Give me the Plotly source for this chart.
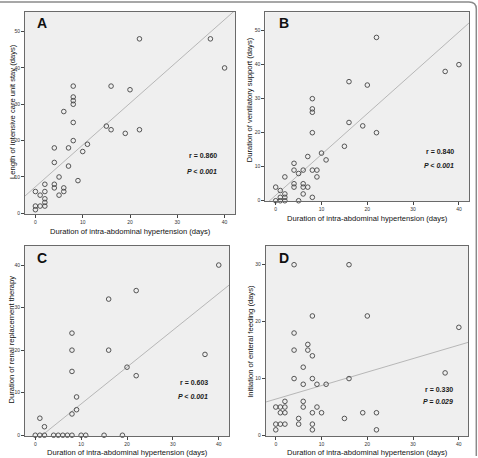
import plotly.graph_objects as go

W, H = 478, 458

# ---------------- data ----------------
a_x = [0, 0, 0, 1, 1, 2, 2, 2, 2, 2, 4, 4, 4, 4, 5, 5, 6, 6, 6, 7, 7, 8, 8, 8, 8, 8, 8, 9, 10, 11, 15, 16, 16, 19, 20, 22, 22, 37, 40]
a_y = [1, 2, 6, 2, 5, 2, 3, 4, 6, 8, 7, 8, 14, 18, 5, 10, 6, 7, 28, 13, 18, 20, 25, 30, 31, 32, 35, 9, 17, 19, 24, 23, 35, 22, 34, 23, 48, 48, 40]

b_x = [0, 0, 1, 1, 1, 2, 2, 2, 2, 4, 4, 4, 4, 5, 5, 6, 6, 6, 6, 7, 7, 8, 8, 8, 8, 8, 8, 9, 9, 10, 11, 15, 16, 16, 19, 20, 22, 22, 37, 40]
b_y = [0, 4, 0, 1, 3, 0, 1, 2, 7, 4, 5, 9, 11, 0, 8, 2, 4, 5, 9, 4, 13, 1, 9, 20, 26, 27, 30, 7, 9, 14, 12, 16, 23, 35, 22, 34, 20, 48, 38, 40]

c_x = [0, 1, 2, 4, 5, 6, 7, 8, 10, 11, 15, 19, 1, 2, 8, 9, 9, 8, 8, 8, 16, 16, 20, 22, 22, 37, 40]
c_y = [0, 0, 0, 0, 0, 0, 0, 0, 0, 0, 0, 0, 4, 2, 5, 6, 9, 15, 20, 24, 20, 32, 16, 14, 34, 19, 40]

d_x = [4, 16, 8, 20, 40, 4, 7, 4, 7, 8, 6, 37, 4, 8, 16, 6, 9, 11, 2, 6, 0, 1, 2, 6, 9, 1, 2, 8, 10, 19, 22, 5, 15, 0, 1, 2, 5, 8, 0, 8, 22]
d_y = [30, 30, 21, 21, 19, 18, 16, 15, 15, 14, 12, 11, 10, 10, 10, 9, 9, 9, 6, 6, 5, 5, 5, 5, 5, 4, 4, 4, 4, 4, 4, 3, 3, 2, 2, 2, 2, 2, 1, 1, 1]

# fitted regression lines (intercept, slope)
fit_intercept = [7.3, 1.6, -1.3, 6.4]
fit_slope = [1.15, 1.2, 0.866, 0.237]

panel_letters = ["A", "B", "C", "D"]
r_labels = ["r = 0.860", "r = 0.840", "r = 0.603", "r = 0.330"]
p_labels = ["P < 0.001", "P < 0.001", "P < 0.001", "P = 0.029"]
x_title = "Duration of intra-abdominal hypertension (days)"
y_titles = ["Length of intensive care unit stay (days)",
            "Duration of ventilatory support (days)",
            "Duration of renal replacement therapy",
            "Initiation of enteral feeding (days)"]
x_ticks = [0, 10, 20, 30, 40]
y_ticks = [[0, 10, 20, 30, 40, 50], [0, 10, 20, 30, 40, 50], [0, 10, 20, 30, 40], [0, 10, 20, 30]]

# ---------------- layout (pixel boxes) ----------------
def px(x):
    return x / W

def py(y):
    return 1 - y / H

boxes = [(25, 235, 12, 215), (265.3, 469, 12.3, 202.3), (25, 229.3, 247, 438), (265.7, 468, 247, 438)]
x_ranges = [[-2.2, 42.2], [-2.27, 42.2], [-2.24, 42.3], [-2.2, 42.0]]
y_ranges = [[-0.2, 55.4], [-0.2, 55.4], [-0.2, 44.5], [-0.1, 33.3]]

letter_pos = [(42, 23), (283.7, 23), (41.7, 258.7), (283.7, 258.7)]
rp_pos = [(219, 155.7, 172.3), (456.3, 152.3, 166.7), (210, 384, 398.3), (454.7, 391.7, 403.7)]
xt_pos = [(130, 232.3), (367.3, 219), (127.5, 454.3), (367.3, 454.3)]
yt_pos = [(12.7, 111.7), (249.7, 100), (11.7, 341.3), (250.3, 343)]

FONT = "Liberation Sans, Arial, sans-serif"
fig = go.Figure()
data = [(a_x, a_y), (b_x, b_y), (c_x, c_y), (d_x, d_y)]

annotations = []
layout = {}
for i in range(4):
    sfx = "" if i == 0 else str(i + 1)
    xa, ya = "x" + sfx, "y" + sfx
    xs, ys = data[i]
    x0, x1 = x_ranges[i]
    fig.add_trace(go.Scatter(
        x=[x0, x1], y=[fit_intercept[i] + fit_slope[i] * x0, fit_intercept[i] + fit_slope[i] * x1],
        mode="lines", line=dict(color="#b0b0b0", width=0.9), xaxis=xa, yaxis=ya,
        showlegend=False, hoverinfo="skip"))
    fig.add_trace(go.Scatter(
        x=xs, y=ys, mode="markers", cliponaxis=False,
        marker=dict(symbol="circle-open", size=4.6, color="#444", line=dict(width=0.9, color="#444")),
        xaxis=xa, yaxis=ya, showlegend=False))
    l, r, t, b = boxes[i]
    axcommon = dict(showgrid=False, zeroline=False, showline=True, mirror=True,
                    linecolor="#6a6a6a", linewidth=1, ticks="outside", ticklen=3,
                    tickcolor="#444", tickwidth=1, tickfont=dict(size=5, color="#333", family=FONT))
    layout["xaxis" + sfx] = dict(domain=[px(l), px(r)], range=x_ranges[i], anchor=ya,
                                 tickvals=x_ticks, **axcommon)
    layout["yaxis" + sfx] = dict(domain=[py(b), py(t)], range=y_ranges[i], anchor=xa,
                                 tickvals=y_ticks[i], **axcommon)
    lx, ly = letter_pos[i]
    annotations.append(dict(x=px(lx), y=py(ly), xref="paper", yref="paper", text="<b>%s</b>" % panel_letters[i],
                            showarrow=False, font=dict(size=14, color="#111", family=FONT),
                            xanchor="center", yanchor="middle"))
    rx, ry, pyy = rp_pos[i]
    annotations.append(dict(x=px(rx), y=py(ry), xref="paper", yref="paper", text="<b>%s</b>" % r_labels[i],
                            showarrow=False, font=dict(size=7, color="#1a1a1a", family=FONT),
                            xanchor="right", yanchor="middle"))
    annotations.append(dict(x=px(rx), y=py(pyy), xref="paper", yref="paper", text="<b><i>%s</i></b>" % p_labels[i],
                            showarrow=False, font=dict(size=7, color="#1a1a1a", family=FONT),
                            xanchor="right", yanchor="middle"))
    tx, ty = xt_pos[i]
    annotations.append(dict(x=px(tx), y=py(ty), xref="paper", yref="paper", text=x_title,
                            showarrow=False, font=dict(size=7.6, color="#111", family=FONT),
                            xanchor="center", yanchor="middle"))
    yx, yy = yt_pos[i]
    annotations.append(dict(x=px(yx), y=py(yy), xref="paper", yref="paper", text=y_titles[i],
                            textangle=-90, showarrow=False, font=dict(size=7.6, color="#111", family=FONT),
                            xanchor="center", yanchor="middle"))

# outer frame (top edge and right edge with rounded corner)
frame_path = "M 0,{t} L {xa},{t} Q {xr},{t} {xr},{yb} L {xr},0".format(
    t=py(2), xa=px(469), xr=px(476.3), yb=py(9))

fig.update_layout(
    width=W, height=H, margin=dict(l=0, r=0, t=0, b=0),
    paper_bgcolor="white", plot_bgcolor="#efefef",
    annotations=annotations,
    shapes=[dict(type="path", path=frame_path, xref="paper", yref="paper",
                 line=dict(color="#8a8a8a", width=1.5))],
    **layout)

fig.write_html("out.html")
